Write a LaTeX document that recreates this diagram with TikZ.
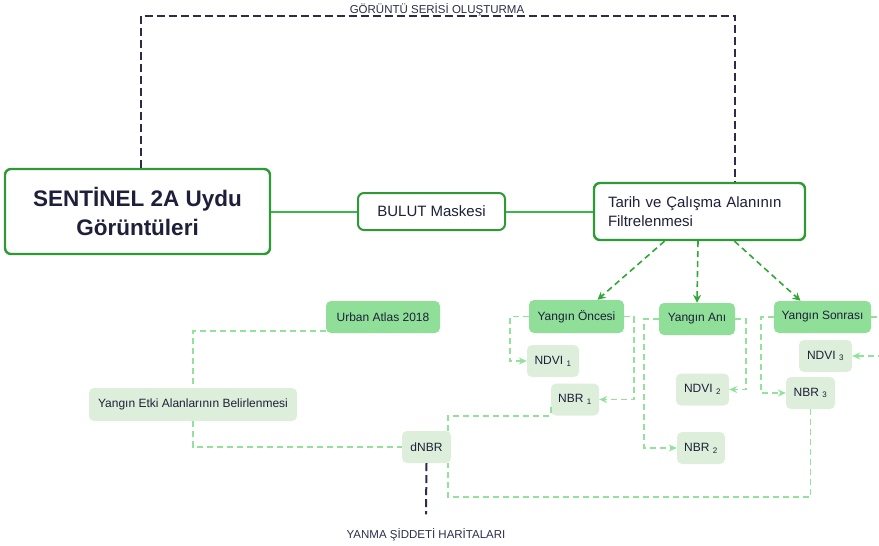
\documentclass[tikz,border=0pt]{standalone}
\usepackage{fontspec}
\setmainfont{Liberation Sans}
\usepackage{tikz}
\usetikzlibrary{arrows.meta,positioning,calc}

\definecolor{lacivert}{HTML}{2B2D4B}
\definecolor{yaziRenk}{HTML}{1E1F3A}
\definecolor{koyuYesil}{HTML}{2E9A34}
\definecolor{hatYesil}{HTML}{3DB54A}
\definecolor{okYesil}{HTML}{2FA837}
\definecolor{ortaYesil}{HTML}{8FDF98}
\definecolor{acikYesil}{HTML}{DDEFDA}
\definecolor{kesikYesil}{HTML}{93E29B}

\begin{document}
\begin{tikzpicture}[x=1pt,y=-1pt,
    anakutu/.style={draw=koyuYesil,line width=2.4pt,rounded corners=6pt,fill=white,text=yaziRenk},
    ortakutu/.style={fill=ortaYesil,rounded corners=5pt,text=yaziRenk,font=\fontsize{12}{14}\selectfont,inner sep=0pt},
    acikkutu/.style={fill=acikYesil,rounded corners=5pt,text=yaziRenk,font=\fontsize{12}{14}\selectfont,inner sep=0pt},
    duzhat/.style={hatYesil,line width=2pt},
    okhat/.style={okYesil,line width=1.6pt,dash pattern=on 6pt off 4pt,-{Stealth[length=8pt,width=8pt]}},
    acikhat/.style={kesikYesil,line width=1.7pt,dash pattern=on 6pt off 4pt},
    acikok/.style={acikhat,-{Stealth[length=8pt,width=7pt]}},
    lacihat/.style={lacivert,line width=2pt,dash pattern=on 8pt off 4pt},
    etiket/.style={text=lacivert,font=\fontsize{11.5}{13}\selectfont}]
  \useasboundingbox (0,0) rectangle (879,546);

  % ana kutular
  \node[anakutu,minimum width=265pt,minimum height=85pt,align=center,
        font=\bfseries\fontsize{22.5}{29}\selectfont] (sentinel) at (137.5,211.5) {SENTİNEL 2A Uydu\\Görüntüleri};
  \node[anakutu,minimum width=147pt,minimum height=37pt,line width=2pt,
        font=\fontsize{15}{17}\selectfont] (bulut) at (431.5,211.5) {BULUT Maskesi};
  \node[anakutu,minimum height=57pt,text width=183pt,inner xsep=14pt,align=left,
        font=\fontsize{15}{19}\selectfont] (tarih) at (699.5,211.5) {Tarih ve Çalışma Alanının\\Filtrelenmesi};
  \draw[duzhat] (sentinel.east) -- (bulut.west);
  \draw[duzhat] (bulut.east) -- (tarih.west);

  % zaman kutulari
  \node[ortakutu,minimum width=95pt,minimum height=33pt] (oncesi) at (576.5,316.5) {Yangın Öncesi};
  \node[ortakutu,minimum width=76pt,minimum height=32pt] (ani) at (697,319) {Yangın Anı};
  \node[ortakutu,minimum width=97pt,minimum height=32pt] (sonrasi) at (822.5,317) {Yangın Sonrası};
  \node[ortakutu,minimum width=114pt,minimum height=32pt] (urban) at (383,317) {Urban Atlas 2018};

  % indeksler
  \foreach \ad/\x/\y/\w/\yazi in {ndvia/553/361/52/NDVI \textsubscript{1},nbra/575/399.5/48/NBR \textsubscript{1},
      ndvib/702.5/389.5/53/NDVI \textsubscript{2},nbrb/701/448/48/NBR \textsubscript{2},
      ndvic/825.5/356/53/NDVI \textsubscript{3},nbrc/810.5/393/49/NBR \textsubscript{3},dnbr/426.5/447/49/dNBR}{
    \node[acikkutu,minimum width=\w pt,minimum height=32pt] (\ad) at (\x,\y) {\yazi};
  }
  \node[acikkutu,minimum width=208pt,minimum height=33pt] (etki) at (193,404.5) {Yangın Etki Alanlarının Belirlenmesi};

  % tarih -> zamanlar
  \draw[okhat] ($(tarih.south)+(-35,0)$) -- ($(oncesi.north)+(21,0)$);
  \draw[okhat] ($(tarih.south)+(-1.5,0)$) -- (ani.north);
  \draw[okhat] ($(tarih.south)+(35,0)$) -- ($(sonrasi.north)+(-22,0)$);

  % zamanlar -> indeksler
  \draw[acikok] (oncesi.west) -- ++(-19,0) |- (ndvia.west);
  \draw[acikok] (oncesi.east) -- ++(10,0) |- (nbra.east);
  \draw[acikok] (ani.west) -- ++(-15,0) |- (nbrb.west);
  \draw[acikok] (ani.east) -- ++(11,0) |- (ndvib.east);
  \draw[acikok] (sonrasi.west) -- ++(-13,0) |- (nbrc.west);
  \draw[acikhat] (sonrasi.east) -- ++(12,0);
  \coordinate (sagkenar) at (884,356);
  \draw[acikok] (sagkenar) -- (ndvic.east);

  % dNBR baglantilari
  \draw[acikhat] ($(dnbr.north east)+(-3,0)$) |- (nbra.south west) -- ++(0,-12);
  \draw[acikhat] (nbrc.south) -- ++(0,88) -| ($(dnbr.south east)+(-3,0)$);
  \draw[acikhat] ($(urban.south west)+(0,-2)$) -| (etki.north);
  \draw[acikhat] (etki.south) |- (dnbr.west);

  % seri ve harita
  \node[etiket] (seri) at (437,10) {GÖRÜNTÜ SERİSİ OLUŞTURMA};
  \draw[lacihat] ($(sentinel.north)+(3,0)$) -- ++(0,-152) -| ($(tarih.north)+(35.5,0)$);
  \node[etiket] (harita) at (426,535) {YANMA ŞİDDETİ HARİTALARI};
  \draw[lacihat] (dnbr.south) -- ($(harita.north)+(0,-11)$);
\end{tikzpicture}
\end{document}
